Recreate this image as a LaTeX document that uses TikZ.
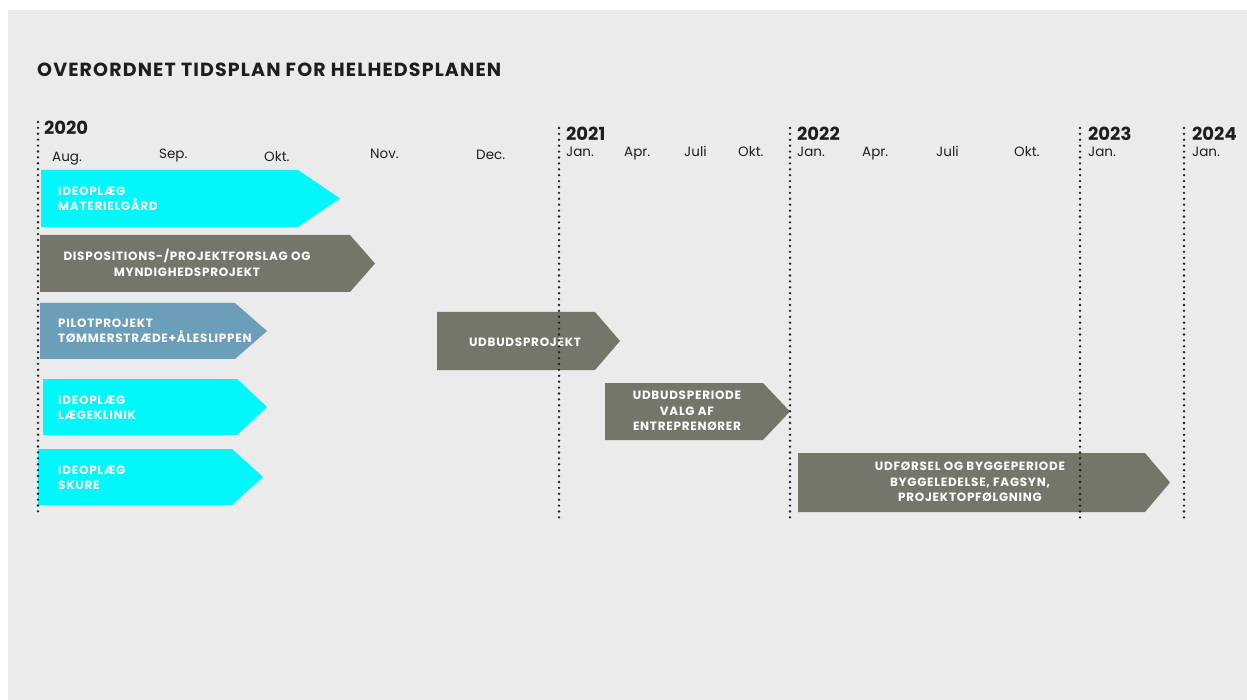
\documentclass[tikz,border=0pt]{standalone}
\usepackage{fontspec}
\setmainfont{Poppins}
\newfontfamily\titlefont{Poppins}[LetterSpace=6]
\newfontfamily\barfont{Poppins}[LetterSpace=6]
\definecolor{bgpanel}{HTML}{EBEBEB}
\definecolor{cyanbar}{HTML}{00F8FA}
\definecolor{greybar}{HTML}{75756A}
\definecolor{bluebar}{HTML}{6B9EB8}
\definecolor{ink}{HTML}{1E1E1E}
\newcommand\tlchev[7]{% name, colour, left, top, rect right, tip, bottom
  \fill[#2] (#3,#4) coordinate (#1-nw) -- (#5,#4) -- (#6,{(#4+#7)/2}) coordinate (#1-tip) -- (#5,#7) -- (#3,#7) coordinate (#1-sw) -- cycle;}
\begin{document}
\begin{tikzpicture}[x=1pt,y=-1pt,
  title/.style={font=\titlefont\bfseries\fontsize{19}{22}\selectfont, text=ink, anchor=base west, inner sep=0},
  year/.style={font=\bfseries\fontsize{18}{21}\selectfont, text=ink, anchor=base west, inner sep=0},
  month/.style={font=\fontsize{13.5}{16}\selectfont, text=ink, anchor=base west, inner sep=0},
  bartext/.style={font=\barfont\bfseries\fontsize{12}{15.5}\selectfont, text=white, inner sep=0},
  yearline/.style={line width=2.6pt, line cap=round, dash pattern=on 0pt off 5.9pt, draw=ink}
]
\useasboundingbox (0,0) rectangle (1247,700);
\fill[white] (0,0) rectangle (1247,700);
\fill[bgpanel] (8,10) rectangle (1247,700);

\node[title] (title) at (37,77) {OVERORDNET TIDSPLAN FOR HELHEDSPLANEN};

% years
\node[year] (y2020) at (44,135) {2020};
\node[year] (y2021) at (566,141) {2021};
\node[year] (y2022) at (797,141) {2022};
\node[year] (y2023) at (1088,141) {2023};
\node[year] (y2024) at (1192,141) {2024};

% months
\node[month] (m1) at (52,162) {Aug.};
\node[month] (m2) at (159,159) {Sep.};
\node[month] (m3) at (264,162) {Okt.};
\node[month] (m4) at (370,159) {Nov.};
\node[month] (m5) at (476,160) {Dec.};
\node[month] (m6) at (566,157) {Jan.};
\node[month] (m7) at (624,157) {Apr.};
\node[month] (m8) at (684,157) {Juli};
\node[month] (m9) at (738,157) {Okt.};
\node[month] (m10) at (797,157) {Jan.};
\node[month] (m11) at (862,157) {Apr.};
\node[month] (m12) at (936,157) {Juli};
\node[month] (m13) at (1014,157) {Okt.};
\node[month] (m14) at (1088,157) {Jan.};
\node[month] (m15) at (1192,157) {Jan.};

% bars
\tlchev{b1}{cyanbar}{41}{170}{298}{340}{227}
\tlchev{b2}{greybar}{40}{235}{350}{375}{292}
\tlchev{b3}{bluebar}{40}{303}{235}{267}{359}
\tlchev{b4}{cyanbar}{43}{379}{237}{267}{435}
\tlchev{b5}{cyanbar}{38}{449}{232}{263}{505}
\tlchev{b6}{greybar}{437}{312}{595}{620}{370}
\tlchev{b7}{greybar}{605}{383}{763}{790}{440}
\tlchev{b8}{greybar}{798}{453}{1145}{1170}{512}

\node[bartext, anchor=west, align=left] (t1) at (58,199) {IDEOPLÆG\\MATERIELGÅRD};
\node[bartext, align=center] (t2) at (187,263) {DISPOSITIONS-/PROJEKTFORSLAG OG\\MYNDIGHEDSPROJEKT};
\node[bartext, anchor=west, align=left] (t3) at (58,331) {PILOTPROJEKT\\TØMMERSTRÆDE+ÅLESLIPPEN};
\node[bartext, anchor=west, align=left] (t4) at (58,408) {IDEOPLÆG\\LÆGEKLINIK};
\node[bartext, anchor=west, align=left] (t5) at (58,478) {IDEOPLÆG\\SKURE};
\node[bartext, align=center] (t6) at (525,342) {UDBUDSPROJEKT};
\node[bartext, align=center] (t7) at (687,411) {UDBUDSPERIODE\\VALG AF\\ENTREPRENØRER};
\node[bartext, align=center] (t8) at (970,482) {UDFØRSEL OG BYGGEPERIODE\\BYGGELEDELSE, FAGSYN,\\PROJEKTOPFØLGNING};

% dotted year lines
\coordinate (l0a) at (38,122); \coordinate (l0b) at (38,517);
\coordinate (l1a) at (559,128); \coordinate (l1b) at (559,523);
\coordinate (l2a) at (790,128); \coordinate (l2b) at (790,523);
\coordinate (l3a) at (1080,128); \coordinate (l3b) at (1080,523);
\coordinate (l4a) at (1184,128); \coordinate (l4b) at (1184,523);
\foreach \i in {0,...,4} \draw[yearline] (l\i a) -- (l\i b);
\end{tikzpicture}
\end{document}
